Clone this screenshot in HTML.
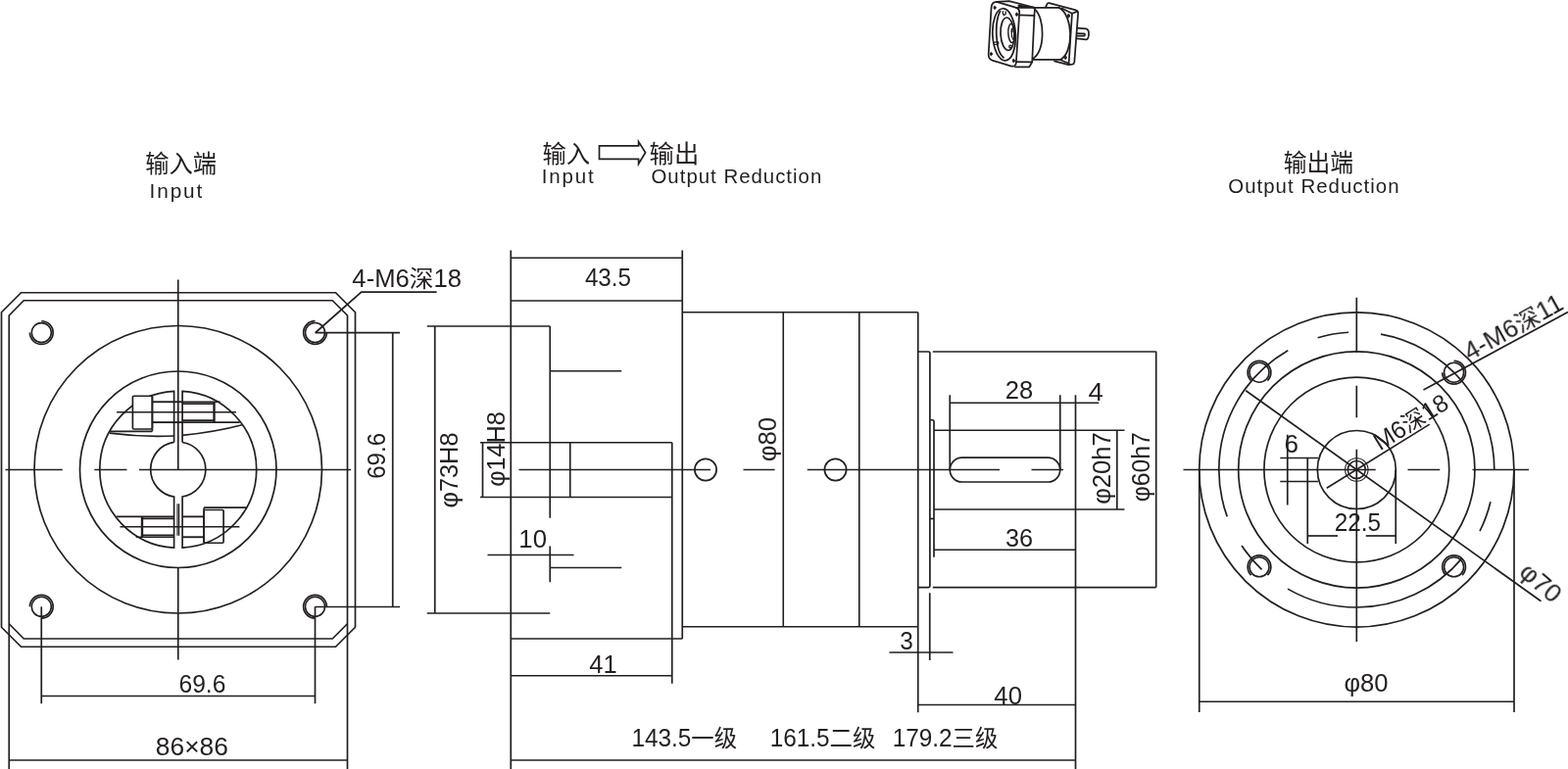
<!DOCTYPE html>
<html lang="zh"><head><meta charset="utf-8"><title>Drawing</title>
<style>
html,body{margin:0;padding:0;background:#fff;}
body{width:1600px;height:785px;overflow:hidden;}
svg{display:block;}
svg text{font-family:"Liberation Sans","Noto Sans CJK SC",sans-serif;fill:#231f20;}
.ln{fill:none;stroke:#231f20;stroke-width:1.7;}
</style></head><body>
<svg width="1600" height="785" viewBox="0 0 1600 785">
<rect width="1600" height="785" fill="#fff"/>
<g class="ln">
<path d="M21.5,298.75 H342.5 L362.5,318.75 V640.25 L342.5,660.25 H21.5 L1.5,640.25 V318.75 Z"/>
<path d="M9.25,785 V322 L24.25,306.75 H339.25 L354.5,322 V785"/>
<path d="M9.25,636.75 L24.25,652 H339.25 L354.5,636.75"/>
<circle cx="181.75" cy="479.25" r="146.75"/>
<circle cx="181.75" cy="479.25" r="100.25"/>
<path d="M186.1,451.49 V399.37 A80,80 0 0 1 186.1,559.13 V507.01 A28.1,28.1 0 0 0 186.1,451.49"/>
<path d="M177.6,451.46 V399.36 A80,80 0 0 0 177.6,559.14 V507.04 A28.1,28.1 0 0 1 177.6,451.46"/>
<line x1="181.75" y1="285.5" x2="181.75" y2="480"/>
<line x1="181.75" y1="579.75" x2="181.75" y2="673.5"/>
<line x1="5.5" y1="479.5" x2="63.75" y2="479.5"/>
<line x1="96.25" y1="479.5" x2="129.5" y2="479.5"/>
<line x1="142" y1="479.5" x2="358" y2="479.5"/>
<g><rect x="208.1" y="520.5" width="20" height="33.75" rx="1.2" fill="none"/><line x1="208.1" y1="518.2" x2="251.5" y2="518.2"/><line x1="208.1" y1="518.2" x2="208.1" y2="554.25"/><line x1="186.1" y1="527.4" x2="208.1" y2="527.4" stroke-width="1.9"/><line x1="186.1" y1="548.25" x2="208.1" y2="548.25" stroke-width="1.9"/><line x1="118.75" y1="527.4" x2="177.6" y2="527.4"/><line x1="145" y1="529.3" x2="177.6" y2="529.3" stroke-width="1.8"/><line x1="145" y1="546.4" x2="177.6" y2="546.4" stroke-width="1.8"/><line x1="138.75" y1="548.25" x2="177.6" y2="548.25"/><line x1="145" y1="527.4" x2="145" y2="548.25" stroke-width="2.4"/><line x1="122.5" y1="537.75" x2="244.4" y2="537.75"/><line x1="181.0" y1="514.25" x2="181.0" y2="546.75" stroke-width="1.2"/><line x1="182.6" y1="514.25" x2="182.6" y2="546.75" stroke-width="1.2"/></g>
<g transform="rotate(180 181.75 479.25)"><rect x="208.1" y="520.5" width="20" height="33.75" rx="1.2" fill="#fff"/><line x1="208.1" y1="518.2" x2="251.5" y2="518.2"/><line x1="208.1" y1="518.2" x2="208.1" y2="554.25"/><line x1="177.6" y1="527.4" x2="208.1" y2="527.4" stroke-width="1.9"/><line x1="177.6" y1="548.25" x2="208.1" y2="548.25" stroke-width="1.9"/><line x1="118.75" y1="527.4" x2="177.6" y2="527.4"/><line x1="145" y1="529.3" x2="177.6" y2="529.3" stroke-width="1.8"/><line x1="145" y1="546.4" x2="177.6" y2="546.4" stroke-width="1.8"/><line x1="138.75" y1="548.25" x2="177.6" y2="548.25"/><line x1="145" y1="527.4" x2="145" y2="548.25" stroke-width="2.4"/><line x1="122.5" y1="537.75" x2="244.4" y2="537.75"/></g>
<path d="M111.9,442.2 Q145,446.5 177.6,445"/>
<path d="M186.1,444.4 Q220,441 247,433.8"/>
<circle cx="42.3" cy="339.6" r="10.0" stroke-width="1.6"/>
<path d="M42.30,327.75 A11.85,11.85 0 1 1 30.45,339.60" stroke-width="1.7"/>
<circle cx="321.5" cy="339.5" r="10.0" stroke-width="1.6"/>
<path d="M333.35,339.50 A11.85,11.85 0 1 1 321.50,327.65" stroke-width="1.7"/>
<circle cx="42.3" cy="619.3" r="10.0" stroke-width="1.6"/>
<path d="M30.45,619.30 A11.85,11.85 0 1 1 42.30,631.15" stroke-width="1.7"/>
<circle cx="321.5" cy="619.3" r="10.0" stroke-width="1.6"/>
<path d="M321.50,631.15 A11.85,11.85 0 1 1 333.35,619.30" stroke-width="1.7"/>
<path d="M321.9,339.5 L368.75,298.1 H445.6"/>
<line x1="321.5" y1="339.6" x2="408" y2="339.6"/>
<line x1="321.5" y1="619.5" x2="408" y2="619.5"/>
<line x1="400.75" y1="339.6" x2="400.75" y2="619.5"/>
<line x1="42.25" y1="619.3" x2="42.25" y2="718.25"/>
<line x1="321.5" y1="619.3" x2="321.5" y2="718.25"/>
<line x1="42.25" y1="710.5" x2="321.5" y2="710.5"/>
<line x1="9.25" y1="776" x2="354.5" y2="776"/>
<line x1="435.75" y1="333" x2="561.25" y2="333"/>
<line x1="435.75" y1="626" x2="561.25" y2="626"/>
<line x1="443.75" y1="333" x2="443.75" y2="626"/>
<line x1="521.25" y1="255.5" x2="521.25" y2="785"/>
<line x1="696.25" y1="255.5" x2="696.25" y2="652"/>
<line x1="521.25" y1="263.25" x2="696.25" y2="263.25"/>
<line x1="521.25" y1="307" x2="696.25" y2="307"/>
<line x1="521.25" y1="652" x2="696.25" y2="652"/>
<line x1="696.25" y1="318.75" x2="936.75" y2="318.75"/>
<line x1="696.25" y1="639.75" x2="936.75" y2="639.75"/>
<line x1="799.25" y1="318.75" x2="799.25" y2="639.75" stroke-width="1.6"/>
<line x1="876.75" y1="318.75" x2="876.75" y2="639.75"/>
<line x1="936.75" y1="318.75" x2="936.75" y2="727.25"/>
<line x1="561.25" y1="333" x2="561.25" y2="528.75"/>
<line x1="561.25" y1="557.5" x2="561.25" y2="594.25"/>
<line x1="561.25" y1="378.75" x2="634.25" y2="378.75"/>
<line x1="561.25" y1="579.5" x2="634.25" y2="579.5"/>
<line x1="490" y1="451.75" x2="685.75" y2="451.75"/>
<line x1="490" y1="507.5" x2="685.75" y2="507.5"/>
<line x1="581.75" y1="451.75" x2="581.75" y2="507.5"/>
<line x1="685.75" y1="451.75" x2="685.75" y2="697.75"/>
<line x1="492.5" y1="451.75" x2="492.5" y2="507.5"/>
<line x1="529.5" y1="479.5" x2="725" y2="479.5"/>
<line x1="758.5" y1="479.5" x2="790.6" y2="479.5"/>
<line x1="823.75" y1="479.5" x2="1020" y2="479.5"/>
<line x1="1052.5" y1="479.5" x2="1085" y2="479.5"/>
<circle cx="720" cy="479.5" r="11.1"/>
<circle cx="852.5" cy="479.5" r="11.1"/>
<line x1="497.5" y1="566.5" x2="585.5" y2="566.5"/>
<line x1="521.25" y1="689.75" x2="685.75" y2="689.75"/>
<line x1="521.25" y1="776.0" x2="1097.5" y2="776.0"/>
<path d="M936.75,359 H947.6 Q948.9,359 948.9,360.3 V598.3 Q948.9,599.6 947.6,599.6 H936.75"/>
<line x1="951.8" y1="359" x2="1179.7" y2="359"/>
<line x1="951.8" y1="599.6" x2="1179.7" y2="599.6"/>
<line x1="1179.7" y1="358.75" x2="1179.7" y2="599.6"/>
<line x1="948.75" y1="605.25" x2="948.75" y2="674"/>
<path d="M948.75,428.75 H951.5 Q953,428.75 953,430.3 V568.75"/>
<line x1="948.75" y1="529.5" x2="953" y2="529.5"/>
<line x1="953" y1="439.25" x2="1147.5" y2="439.25"/>
<line x1="953" y1="520" x2="1147.5" y2="520"/>
<line x1="1139.8" y1="439.25" x2="1139.8" y2="520"/>
<line x1="1097.5" y1="403.25" x2="1097.5" y2="785"/>
<rect x="969.25" y="467.2" width="112.5" height="24.8" rx="12.4"/>
<line x1="969.25" y1="403.25" x2="969.25" y2="479.5"/>
<line x1="1081.75" y1="403.25" x2="1081.75" y2="479.5"/>
<line x1="969.25" y1="411.25" x2="1121.25" y2="411.25"/>
<line x1="953" y1="561.25" x2="1097.5" y2="561.25"/>
<line x1="907.5" y1="666" x2="972.5" y2="666"/>
<line x1="936.75" y1="719.5" x2="1097.5" y2="719.5"/>
<circle cx="1384.3" cy="479.5" r="160.6"/>
<circle cx="1384.3" cy="479.5" r="120.6"/>
<circle cx="1384.3" cy="479.5" r="94.4"/>
<circle cx="1384.3" cy="479.5" r="40"/>
<circle cx="1384.3" cy="479.5" r="11.7" stroke-width="1.1"/>
<circle cx="1384.3" cy="479.5" r="9.0" stroke-width="1.5"/>
<circle cx="1384.3" cy="479.5" r="140.5" stroke-dasharray="196.18 33.10 31.88 33.10" stroke-dashoffset="196.18"/>
<circle cx="1285.0" cy="380.2" r="10.0" stroke-width="1.6"/>
<path d="M1276.62,388.58 A11.85,11.85 0 1 1 1293.38,388.58" stroke-width="1.7"/>
<circle cx="1285.0" cy="578.8" r="10.0" stroke-width="1.6"/>
<path d="M1276.62,587.18 A11.85,11.85 0 1 1 1293.38,587.18" stroke-width="1.7"/>
<circle cx="1483.6" cy="380.2" r="10.0" stroke-width="1.6"/>
<path d="M1483.60,368.35 A11.85,11.85 0 1 1 1471.75,380.20" stroke-width="1.7"/>
<circle cx="1483.6" cy="578.8" r="10.0" stroke-width="1.6"/>
<path d="M1475.22,587.18 A11.85,11.85 0 1 1 1491.98,587.18" stroke-width="1.7"/>
<line x1="1384.3" y1="303.75" x2="1384.3" y2="360"/>
<line x1="1384.3" y1="393.75" x2="1384.3" y2="426.25"/>
<line x1="1384.3" y1="458.75" x2="1384.3" y2="655"/>
<line x1="1207.5" y1="479.5" x2="1403.75" y2="479.5"/>
<line x1="1436.5" y1="479.5" x2="1469.25" y2="479.5"/>
<line x1="1502.5" y1="479.5" x2="1560" y2="479.5"/>
<line x1="1223.75" y1="479.5" x2="1223.75" y2="727"/>
<line x1="1545" y1="479.5" x2="1545" y2="727"/>
<line x1="1223.75" y1="716.25" x2="1545" y2="716.25"/>
<line x1="1306.25" y1="467.5" x2="1345" y2="467.5"/>
<line x1="1306.25" y1="491.5" x2="1345" y2="491.5"/>
<line x1="1313.75" y1="443.75" x2="1313.75" y2="515.5"/>
<line x1="1334.25" y1="467.5" x2="1334.25" y2="555"/>
<line x1="1424.25" y1="479.5" x2="1424.25" y2="555"/>
<line x1="1334.25" y1="547" x2="1365" y2="547"/>
<line x1="1393.75" y1="547" x2="1424.25" y2="547"/>
<line x1="1271.25" y1="398.75" x2="1572.5" y2="613.75"/>
<line x1="1452.5" y1="398" x2="1600" y2="318.6"/>
<line x1="1353.75" y1="498.25" x2="1458.75" y2="433.1"/>
<path d="M611.5,148.9 H651.6 V144.6 L658.6,155.8 L651.6,167.2 V162.4 H611.5 Z"/>
</g>
<g transform="translate(1000 0) scale(0.09174)" fill="none" stroke="#231f20" stroke-width="19" stroke-linejoin="round" stroke-linecap="round">
<!-- input flange front face -->
<path d="M126,80 Q133,20 185,20 L405,86 Q442,100 438,145 L402,698 Q396,746 350,737 L137,672 Q90,655 95,598 Z" fill="#fff"/>
<!-- top surface / side -->
<path d="M185,20 L325,13 L598,82"/>
<path d="M405,86 L598,84 Q612,86 610,100 L604,174 L580,690 L548,745 L392,745" />
<path d="M438,168 L604,174"/>
<path d="M402,688 L580,690"/>
<path d="M430,64 L545,76" stroke-width="22"/>
<!-- body -->
<path d="M600,86 H880"/>
<path d="M588,664 H895"/>
<path d="M606,100 C725,200 725,560 590,653"/>
<path d="M880,86 C1040,170 1045,585 895,664"/>
<!-- output flange -->
<path d="M730,80 L748,42 Q755,30 770,34 L1068,114 Q1094,122 1091,148 L1050,690 Q1046,712 1026,716 L985,720 L828,680"/>
<path d="M1083,127 L1024,150 L988,706"/>
<path d="M912,92 L1024,150"/>
<path d="M898,668 L988,706"/>
<ellipse cx="985" cy="176" rx="11" ry="20" fill="#231f20" stroke-width="10"/>
<ellipse cx="950" cy="640" rx="11" ry="20" fill="#231f20" stroke-width="10"/>
<!-- shaft -->
<path d="M1080,312 L1180,320 Q1212,328 1210,378 Q1208,436 1180,440 L1076,430"/>
<path d="M1082,372 L1158,374 Q1176,385 1160,398 L1080,398"/>
<!-- front face details -->
<ellipse cx="268" cy="385" rx="128" ry="290" transform="rotate(-3 268 385)"/>
<path d="M224,125 C190,190 178,300 184,400 C190,520 220,610 262,640"/>
<ellipse cx="305" cy="378" rx="76" ry="182" transform="rotate(-3 305 378)"/>
<ellipse cx="352" cy="370" rx="38" ry="105" transform="rotate(-3 352 370)" stroke-width="16"/>
<path d="M368,300 C345,330 345,410 370,440" stroke-width="14"/>
<path d="M345,328 H388 M345,348 H388" stroke-width="11"/>
<ellipse cx="164" cy="85" rx="11" ry="18" fill="#231f20" stroke-width="10"/>
<ellipse cx="409" cy="160" rx="11" ry="18" fill="#231f20" stroke-width="10"/>
<ellipse cx="124" cy="600" rx="11" ry="18" fill="#231f20" stroke-width="10"/>
<ellipse cx="374" cy="676" rx="11" ry="18" fill="#231f20" stroke-width="10"/>
<path d="M255,128 Q250,165 270,168 Q290,165 285,130" stroke-width="14"/>
<ellipse cx="338" cy="518" rx="14" ry="16" stroke-width="14"/>
<path d="M152,472 L198,464 Q210,480 200,492 L158,498" stroke-width="14"/>
</g>

<g style="will-change:opacity;opacity:0.999">
<text transform="translate(360.00 293.10) rotate(0) scale(1.0268 1)" x="-0.62" y="0" font-size="25">4-M6<tspan font-size="24.00">深</tspan>18</text>
<text transform="translate(392.50 487.50) rotate(-90) scale(0.9247 1)" x="-1.38" y="0" font-size="26">69.6</text>
<text transform="translate(183.75 706.50) rotate(0) scale(0.9838 1)" x="-1.25" y="0" font-size="25">69.6</text>
<text transform="translate(160.00 770.50) rotate(0) scale(1.0551 1)" x="-1.12" y="0" font-size="25">86×86</text>
<text transform="translate(531.25 559.25) rotate(0) scale(1.0300 1)" x="-1.88" y="0" font-size="25">10</text>
<text transform="translate(602.00 687.25) rotate(0) scale(1.0192 1)" x="-0.62" y="0" font-size="25">41</text>
<text transform="translate(597.50 292.00) rotate(0) scale(0.9681 1)" x="-0.62" y="0" font-size="25">43.5</text>
<text transform="translate(646.25 762.00) rotate(0) scale(0.9745 1)" x="-1.88" y="0" font-size="25">143.5<tspan font-size="24.00">一级</tspan></text>
<text transform="translate(787.50 762.00) rotate(0) scale(0.9745 1)" x="-1.88" y="0" font-size="25">161.5<tspan font-size="24.00">二级</tspan></text>
<text transform="translate(912.50 762.00) rotate(0) scale(0.9745 1)" x="-1.88" y="0" font-size="25">179.2<tspan font-size="24.00">三级</tspan></text>
<text transform="translate(1027.00 406.75) rotate(0) scale(1.0196 1)" x="-1.25" y="0" font-size="25">28</text>
<text transform="translate(1111.25 408.75) rotate(0) scale(1.1000 1)" x="-0.62" y="0" font-size="25">4</text>
<text transform="translate(1027.00 558.00) rotate(0) scale(1.0097 1)" x="-1.00" y="0" font-size="25">36</text>
<text transform="translate(919.25 662.75) rotate(0) scale(0.9787 1)" x="-1.00" y="0" font-size="25">3</text>
<text transform="translate(1015.00 719.00) rotate(0) scale(1.0286 1)" x="-0.62" y="0" font-size="25">40</text>
<text transform="translate(466.50 517.50) rotate(-90) scale(0.9772 1)" x="-1.12" y="0" font-size="26">φ73H8</text>
<text transform="translate(514.60 495.75) rotate(-90) scale(0.9707 1)" x="-1.12" y="0" font-size="26">φ14H8</text>
<text transform="translate(791.90 470.00) rotate(-90) scale(0.9880 1)" x="-1.12" y="0" font-size="26">φ80</text>
<text transform="translate(1132.50 513.75) rotate(-90) scale(0.9862 1)" x="-1.12" y="0" font-size="26">φ20h7</text>
<text transform="translate(1172.50 511.25) rotate(-90) scale(0.9516 1)" x="-1.12" y="0" font-size="26">φ60h7</text>
<text transform="translate(1372.50 705.75) rotate(0) scale(1.0238 1)" x="-1.00" y="0" font-size="25">φ80</text>
<text transform="translate(1363.00 542.10) rotate(0) scale(0.9704 1)" x="-1.25" y="0" font-size="25">22.5</text>
<text transform="translate(1311.75 461.75) rotate(0) scale(1.0435 1)" x="-1.25" y="0" font-size="25">6</text>
<text transform="translate(1549.60 586.80) rotate(41) scale(1.0667 1)" x="-1.00" y="0" font-size="25">φ70</text>
<text transform="translate(1500.30 368.30) rotate(-29) scale(1.0410 1)" x="-0.62" y="0" font-size="25">4-M6<tspan font-size="24.00">深</tspan>11</text>
<text transform="translate(1410.00 459.40) rotate(-32) scale(0.9760 1)" x="-2.00" y="0" font-size="25">M6<tspan font-size="24.00">深</tspan>18</text>
<text transform="translate(149.25 176.40) rotate(0) scale(0.9742 1)" x="-1.12" y="0" font-size="26"><tspan font-size="24.96">输入端</tspan></text>
<text transform="translate(154.50 202.00) rotate(0) scale(1.0147 1)" x="-1.88" y="0" font-size="20.5" letter-spacing="1.845">Input</text>
<text transform="translate(554.50 166.00) rotate(0) scale(0.9765 1)" x="-1.12" y="0" font-size="26"><tspan font-size="24.96">输入</tspan></text>
<text transform="translate(663.75 166.00) rotate(0) scale(1.0136 1)" x="-1.12" y="0" font-size="26"><tspan font-size="24.96">输出</tspan></text>
<text transform="translate(554.50 187.00) rotate(0) scale(1.0000 1)" x="-1.88" y="0" font-size="20.5" letter-spacing="1.845">Input</text>
<text transform="translate(665.50 187.00) rotate(0) scale(0.9935 1)" x="-1.00" y="0" font-size="20.5" letter-spacing="1.0250000000000001">Output Reduction</text>
<text transform="translate(1310.75 174.60) rotate(0) scale(0.9535 1)" x="-1.12" y="0" font-size="26"><tspan font-size="24.96">输出端</tspan></text>
<text transform="translate(1254.25 197.00) rotate(0) scale(0.9964 1)" x="-1.00" y="0" font-size="20.5" letter-spacing="1.0250000000000001">Output Reduction</text>
</g>
</svg>
</body></html>
